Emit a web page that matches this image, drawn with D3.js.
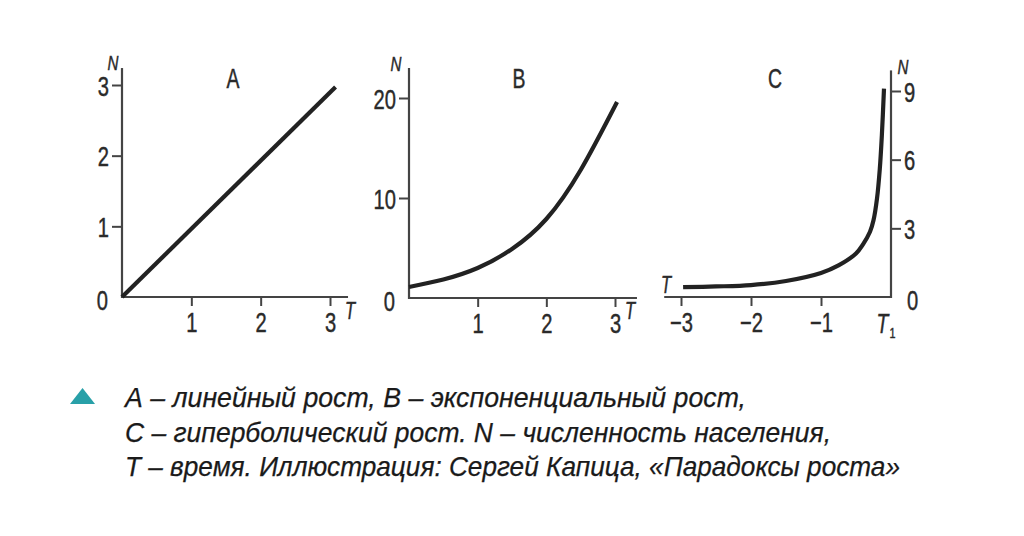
<!DOCTYPE html>
<html><head><meta charset="utf-8">
<script src="https://cdn.jsdelivr.net/npm/d3@7/dist/d3.min.js"></script>
<style>
body{margin:0;background:#fff;}
svg text{font-family:"Liberation Sans","Arial",sans-serif;}
</style></head><body>
<svg id="c" width="1024" height="536"></svg>
<script>
// Panel A: linear growth
const aT = [0, 3.08];
const aN = [0, 2.97];
const aXTicks = [1, 2, 3];
const aYTicks = [1, 2, 3];
// Panel B: exponential growth
const bT = [0, 0.5, 1, 1.5, 2, 2.5, 3.03];
const bN = [1.1, 1.85, 3.0, 4.9, 7.9, 12.8, 19.6];
const bXTicks = [1, 2, 3];
const bYTicks = [10, 20];
// Panel C: hyperbolic growth
const cT = [-2.97, -2.5, -2, -1.5, -1, -0.75, -0.5, -0.4, -0.3, -0.25, -0.2, -0.16, -0.13, -0.1];
const cN = [0.43, 0.46, 0.52, 0.7, 1.05, 1.38, 1.9, 2.3, 2.85, 3.35, 4.3, 5.6, 7.1, 9.1];
const cXTicks = [-3, -2, -1];
const cYTicks = [3, 6, 9];
const panelLabels = ["A", "B", "C"];
const caption = [
  "А – линейный рост, В – экспоненциальный рост,",
  "С – гиперболический рост. N – численность населения,",
  "Т – время. Иллюстрация: Сергей Капица, «Парадоксы роста»"
];

const svg = d3.select("#c");
const AX = "#444", TXT = "#2a2a2a", CURVE = "#222";
const FS = 28, SX = 0.72;

function condense(sel){
  sel.each(function(){
    const t = d3.select(this);
    const x = +(t.attr("x") || 0);
    t.attr("x", x / SX).attr("transform", `scale(${SX},1)`)
      .attr("stroke", TXT).attr("stroke-width", 0.45);
  });
}
function ctext(x, y, s, size, anchor, italic){
  const g = svg.append("g").attr("transform", `translate(${x},${y})`);
  const t = g.append("text").attr("transform", `scale(${SX},1)`).attr("text-anchor", anchor || "middle")
    .attr("fill", TXT).attr("stroke", TXT).attr("stroke-width", 0.45)
    .style("font-size", size + "px").text(s);
  if (italic) t.style("font-style", "italic");
  return t;
}
const fmt = d => d < 0 ? "\u2212" + Math.abs(d) : String(d);

function panel(cfg){
  const g = svg.append("g");
  const x = d3.scaleLinear().domain(cfg.xd).range(cfg.xr);
  const y = d3.scaleLinear().domain(cfg.yd).range(cfg.yr);
  g.append("line").attr("x1", x(cfg.xAxisFrom)).attr("x2", x(cfg.xAxisTo))
    .attr("y1", y(0)).attr("y2", y(0)).attr("stroke", AX).attr("stroke-width", 2.2);
  g.append("line").attr("x1", x(cfg.yAxisAt)).attr("x2", x(cfg.yAxisAt))
    .attr("y1", y(0) + 1).attr("y2", y(cfg.yAxisTop)).attr("stroke", AX).attr("stroke-width", 2.2);
  const xa = d3.axisBottom(x).tickValues(cfg.xTicks).tickSize(9).tickPadding(6).tickFormat(fmt);
  const gx = g.append("g").attr("transform", `translate(0,${y(0)})`).call(xa);
  gx.select(".domain").remove();
  gx.selectAll("line").attr("stroke", AX).attr("stroke-width", 2);
  gx.selectAll("text").attr("fill", TXT).style("font-size", FS + "px").attr("dy", "0.7em").call(condense);
  const ya = (cfg.right ? d3.axisRight(y) : d3.axisLeft(y)).tickValues(cfg.yTicks).tickSize(10).tickPadding(3).tickFormat(fmt);
  const gy = g.append("g").attr("transform", `translate(${x(cfg.yAxisAt)},0)`).call(ya);
  gy.select(".domain").remove();
  gy.selectAll("line").attr("stroke", AX).attr("stroke-width", 2);
  gy.selectAll("text").attr("fill", TXT).style("font-size", FS + "px").attr("dy", "0.36em").call(condense);
  const z = ctext(x(cfg.yAxisAt) + (cfg.right ? 16 : -14), y(0) + 3, "0", FS, cfg.right ? "start" : "end");
  z.attr("dy", "0.36em");
  const pts = cfg.t.map((t, i) => [t, cfg.n[i]]);
  g.append("path").datum(pts)
    .attr("d", d3.line().x(d => x(d[0])).y(d => y(d[1])).curve(cfg.curve))
    .attr("fill", "none").attr("stroke", CURVE).attr("stroke-width", 4.2);
  ctext(cfg.labelX, 78, cfg.label, 27, "middle").attr("dy", "0.36em");
  return {g, x, y};
}

panel({xd:[0,3], xr:[122,330], yd:[0,3], yr:[297,85], xAxisFrom:0, xAxisTo:3.26, yAxisAt:0, yAxisTop:3.24,
  xTicks:aXTicks, yTicks:aYTicks, t:aT, n:aN, label:panelLabels[0], labelX:233, curve:d3.curveLinear});
panel({xd:[0,3], xr:[409,615], yd:[0,20], yr:[298,98], xAxisFrom:0, xAxisTo:3.32, yAxisAt:0, yAxisTop:23,
  xTicks:bXTicks, yTicks:bYTicks, t:bT, n:bN, label:panelLabels[1], labelX:519, curve:d3.curveNatural});
panel({xd:[-3,0], xr:[681,891], yd:[0,9], yr:[297,91], xAxisFrom:-3.24, xAxisTo:0, yAxisAt:0, yAxisTop:9.9, right:true,
  xTicks:cXTicks, yTicks:cYTicks, t:cT, n:cN, label:panelLabels[2], labelX:775, curve:d3.curveCatmullRom.alpha(0.5)});

// axis name labels (italic)
ctext(113, 70, "N", 21, "middle", true);
ctext(396, 71, "N", 21, "middle", true);
ctext(903, 74, "N", 21, "middle", true);
ctext(350, 319, "T", 23, "middle", true);
ctext(630, 319, "T", 23, "middle", true);
ctext(666, 293, "T", 23, "middle", true);
const t1 = ctext(886, 333, "T", 27, "middle", true);
t1.append("tspan").attr("dx", "0.1em").attr("dy", "0.3em").style("font-size", "15px").style("font-style", "normal").text("1");

// caption
svg.append("path").attr("d", "M70,404 L82.5,388 L95,404 Z").attr("fill", "#28a0a8");
const capW = [621, 706, 775];
caption.forEach((s, i) => {
  svg.append("text").attr("x", 125).attr("y", 407 + i * 34.5)
    .attr("fill", "#1a1a1a").attr("stroke", "#1a1a1a").attr("stroke-width", 0.25)
    .style("font-size", "28px").style("font-style", "italic")
    .attr("textLength", capW[i]).attr("lengthAdjust", "spacingAndGlyphs").text(s);
});
</script></body></html>
